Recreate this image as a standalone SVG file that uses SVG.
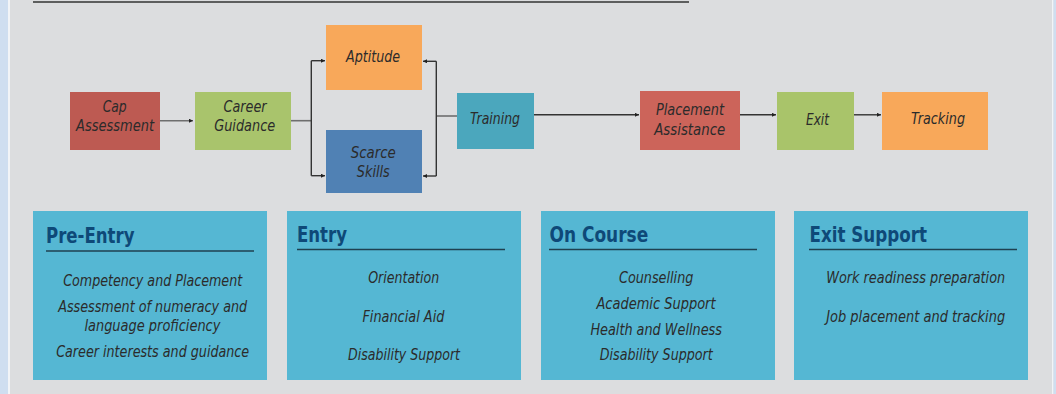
<svg xmlns="http://www.w3.org/2000/svg" width="1056" height="394" viewBox="0 0 1056 394">
  <style>
    .bg { fill: #dcdddf; }
    .strip { fill: #cfdef0; }
    text { font-family: "Liberation Sans Narrow", "DejaVu Sans Condensed", "Liberation Sans", sans-serif; }
    .node text { font-style: italic; font-size: 16px; fill: #2b2b2b; text-anchor: middle; }
    .panel rect { fill: #55b7d3; }
    .panel .title { font-weight: bold; font-size: 21px; fill: #0e4978; }
    .panel .item { font-style: italic; font-size: 15.5px; fill: #2b2b2b; text-anchor: middle; }
    .panel line { stroke: #1f4050; stroke-width: 1.5; }
    .conn { fill: none; stroke: #333; stroke-width: 1.4; }
    .stub { fill: none; stroke: #6e6e6e; stroke-width: 1.6; }
  </style>
  <defs>
    <marker id="head" viewBox="0 0 4 4" refX="4" refY="2" markerWidth="4" markerHeight="4" markerUnits="userSpaceOnUse" orient="auto">
      <path d="M0,0 L4,2 L0,4 Z" fill="#222"/>
    </marker>
  </defs>

  <!-- page background and side strips -->
  <rect class="bg" x="0" y="0" width="1056" height="394"/>
  <rect class="strip" x="0" y="0" width="8" height="394"/>
  <rect x="8" y="0" width="2" height="394" fill="#f2f4f7"/>
  <rect x="1052" y="0" width="1.5" height="394" fill="#f2f4f7"/>
  <rect class="strip" x="1053.5" y="0" width="2.5" height="394"/>

  <!-- top rule -->
  <line x1="33" y1="2" x2="689" y2="2" stroke="#333" stroke-width="1.6"/>

  <!-- connectors -->
  <g id="connectors">
    <path class="stub" d="M160,120.7 H193" marker-end="url(#head)"/>
    <path class="stub" d="M291,120.7 H311"/>
    <path class="conn" d="M311.3,60.7 V175.7"/>
    <path class="conn" d="M311.3,60.7 H325" marker-end="url(#head)"/>
    <path class="conn" d="M311.3,175.7 H325" marker-end="url(#head)"/>
    <path class="stub" d="M457,116 H436.3"/>
    <path class="conn" d="M436.3,61.3 V176"/>
    <path class="conn" d="M436.3,61.3 H423" marker-end="url(#head)"/>
    <path class="conn" d="M436.3,176 H423" marker-end="url(#head)"/>
    <path class="conn" d="M534,114.8 H639" marker-end="url(#head)"/>
    <path class="conn" d="M740,114.8 H776" marker-end="url(#head)"/>
    <path class="conn" d="M854,114.8 H881" marker-end="url(#head)"/>
  </g>

  <!-- flow nodes -->
  <g id="cap-assessment" class="node">
    <rect x="70" y="92" width="90" height="58" fill="#bd5a52"/>
    <text x="114.7" y="112" textLength="24" lengthAdjust="spacingAndGlyphs">Cap</text>
    <text x="115" y="131" textLength="78" lengthAdjust="spacingAndGlyphs">Assessment</text>
  </g>
  <g id="career-guidance" class="node">
    <rect x="195" y="92" width="96" height="58" fill="#a9c46c"/>
    <text x="245" y="112" textLength="43" lengthAdjust="spacingAndGlyphs">Career</text>
    <text x="244.7" y="131" textLength="61" lengthAdjust="spacingAndGlyphs">Guidance</text>
  </g>
  <g id="aptitude" class="node">
    <rect x="326" y="25" width="96" height="65" fill="#f8a85a"/>
    <text x="373" y="62" textLength="54" lengthAdjust="spacingAndGlyphs">Aptitude</text>
  </g>
  <g id="scarce-skills" class="node">
    <rect x="326" y="130" width="96" height="63" fill="#5081b4"/>
    <text x="373.3" y="158" textLength="45" lengthAdjust="spacingAndGlyphs">Scarce</text>
    <text x="373.3" y="177" textLength="33" lengthAdjust="spacingAndGlyphs">Skills</text>
  </g>
  <g id="training" class="node">
    <rect x="457" y="93" width="77" height="56" fill="#4ba7bd"/>
    <text x="495" y="124" textLength="50" lengthAdjust="spacingAndGlyphs">Training</text>
  </g>
  <g id="placement-assistance" class="node">
    <rect x="640" y="91" width="100" height="59" fill="#cc645a"/>
    <text x="690" y="115" textLength="68" lengthAdjust="spacingAndGlyphs">Placement</text>
    <text x="689.7" y="135" textLength="71" lengthAdjust="spacingAndGlyphs">Assistance</text>
  </g>
  <g id="exit" class="node">
    <rect x="777" y="92" width="77" height="58" fill="#a9c46a"/>
    <text x="817.5" y="125" textLength="23" lengthAdjust="spacingAndGlyphs">Exit</text>
  </g>
  <g id="tracking" class="node">
    <rect x="882" y="92" width="106" height="58" fill="#f8a85a"/>
    <text x="938" y="124" textLength="54" lengthAdjust="spacingAndGlyphs">Tracking</text>
  </g>

  <!-- support panels -->
  <g id="pre-entry" class="panel">
    <rect x="33" y="211" width="234" height="169"/>
    <text class="title" x="46" y="243" textLength="88.5" lengthAdjust="spacingAndGlyphs">Pre-Entry</text>
    <line x1="46" y1="251" x2="254" y2="251" stroke="#3d6676" stroke-width="2"/>
    <text class="item" x="152.7" y="286" textLength="179" lengthAdjust="spacingAndGlyphs">Competency and Placement</text>
    <text class="item" x="152.7" y="311.5" textLength="189" lengthAdjust="spacingAndGlyphs">Assessment of numeracy and</text>
    <text class="item" x="152.4" y="330.5" textLength="136" lengthAdjust="spacingAndGlyphs">language proficiency</text>
    <text class="item" x="152.7" y="356.5" textLength="193" lengthAdjust="spacingAndGlyphs">Career interests and guidance</text>
  </g>
  <g id="entry" class="panel">
    <rect x="287" y="211" width="234" height="169"/>
    <text class="title" x="297" y="242" textLength="50" lengthAdjust="spacingAndGlyphs">Entry</text>
    <line x1="297" y1="249.5" x2="505" y2="249.5"/>
    <text class="item" x="403.7" y="283" textLength="71" lengthAdjust="spacingAndGlyphs">Orientation</text>
    <text class="item" x="403.4" y="322" textLength="82" lengthAdjust="spacingAndGlyphs">Financial Aid</text>
    <text class="item" x="404" y="360" textLength="112" lengthAdjust="spacingAndGlyphs">Disability Support</text>
  </g>
  <g id="on-course" class="panel">
    <rect x="541" y="211" width="234" height="169"/>
    <text class="title" x="549.5" y="242" textLength="98.7" lengthAdjust="spacingAndGlyphs">On Course</text>
    <line x1="549" y1="249.5" x2="757" y2="249.5"/>
    <text class="item" x="656.2" y="283" textLength="74.5" lengthAdjust="spacingAndGlyphs">Counselling</text>
    <text class="item" x="656" y="309" textLength="119" lengthAdjust="spacingAndGlyphs">Academic Support</text>
    <text class="item" x="656.2" y="335" textLength="131.6" lengthAdjust="spacingAndGlyphs">Health and Wellness</text>
    <text class="item" x="656.3" y="360" textLength="113" lengthAdjust="spacingAndGlyphs">Disability Support</text>
  </g>
  <g id="exit-support" class="panel">
    <rect x="794" y="211" width="234" height="169"/>
    <text class="title" x="809.5" y="242" textLength="117.5" lengthAdjust="spacingAndGlyphs">Exit Support</text>
    <line x1="809" y1="249.5" x2="1017" y2="249.5"/>
    <text class="item" x="915.7" y="283" textLength="179" lengthAdjust="spacingAndGlyphs">Work readiness preparation</text>
    <text class="item" x="915.7" y="322" textLength="179" lengthAdjust="spacingAndGlyphs">Job placement and tracking</text>
  </g>
</svg>
